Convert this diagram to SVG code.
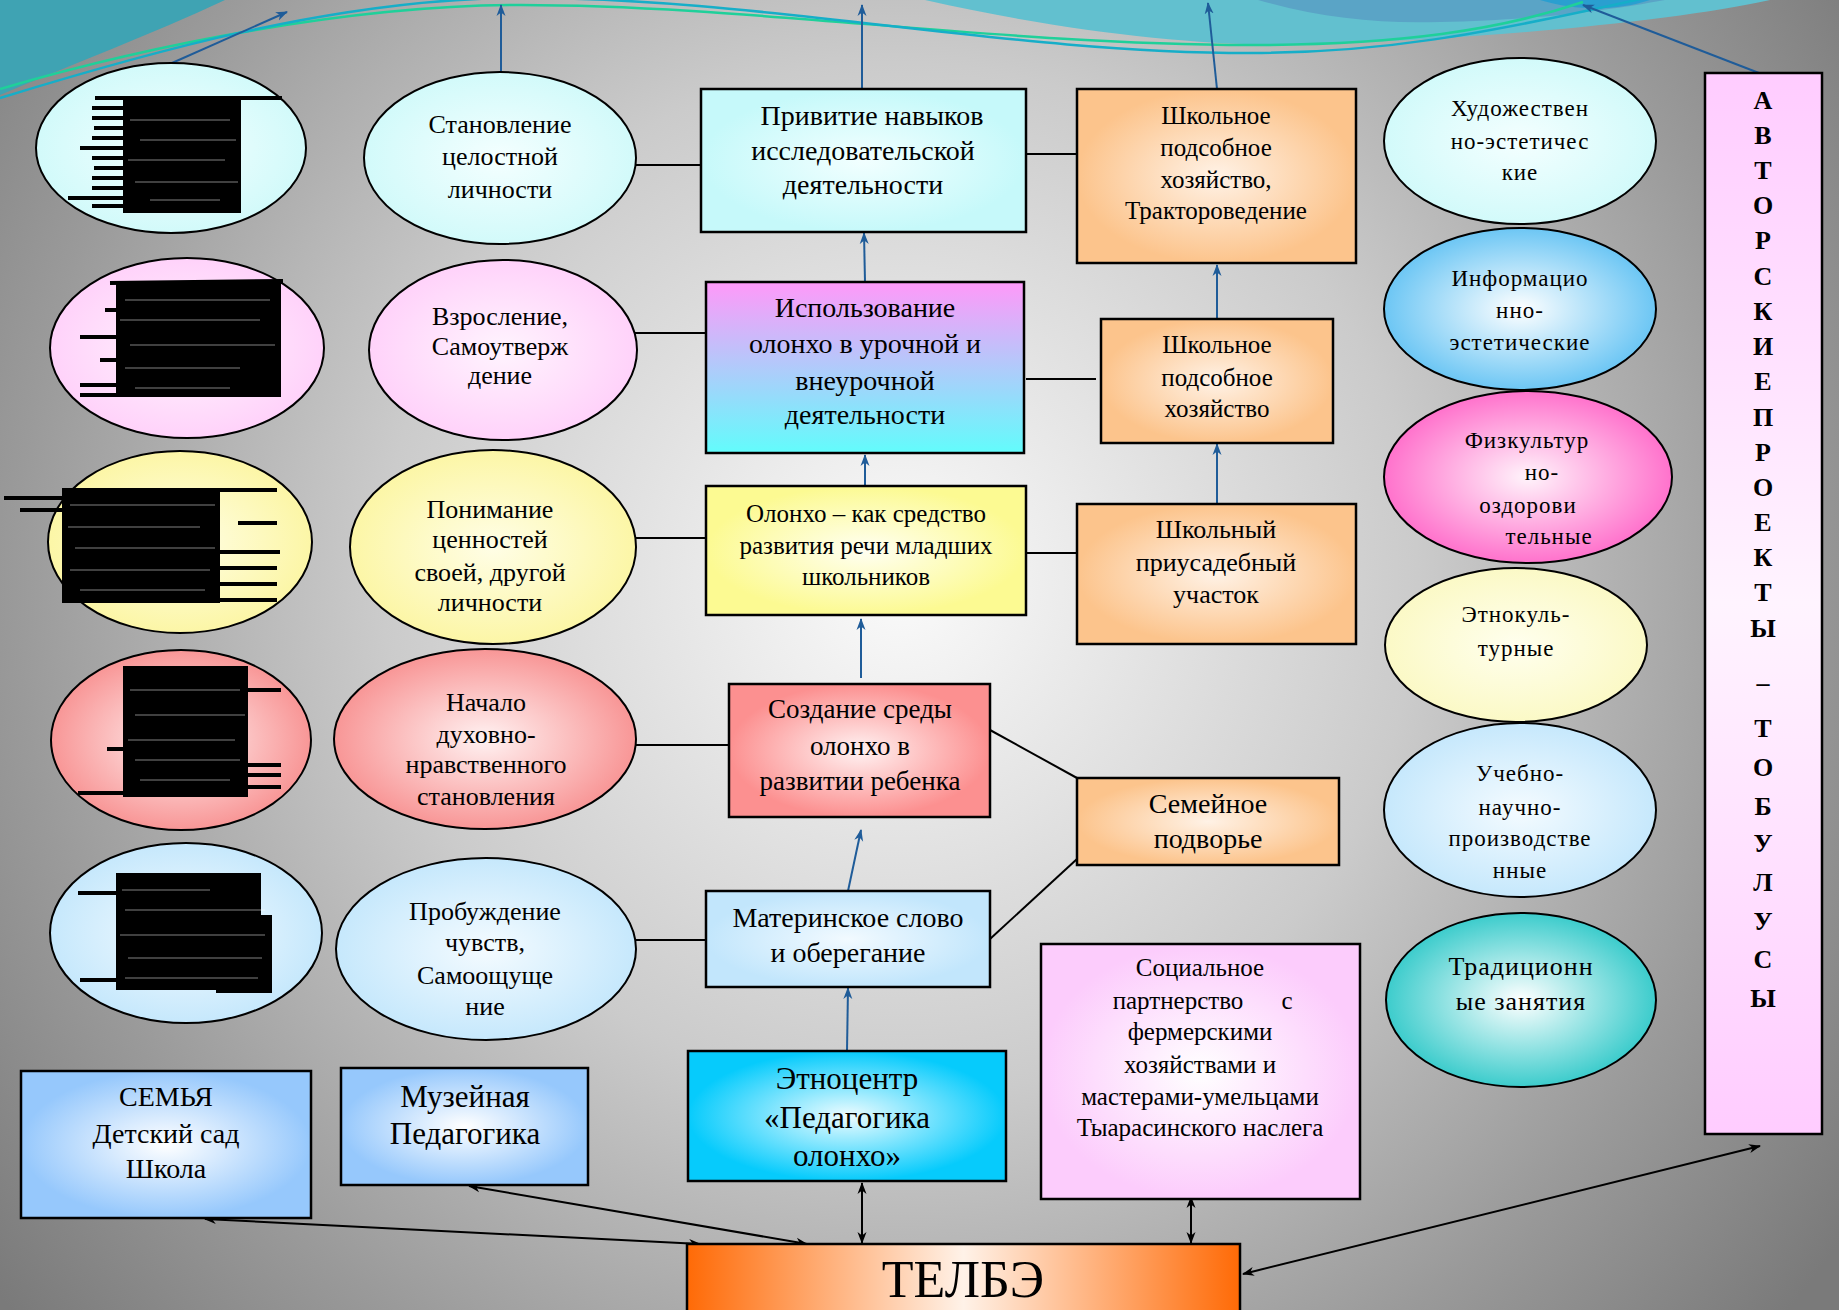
<svg xmlns="http://www.w3.org/2000/svg" width="1839" height="1310" viewBox="0 0 1839 1310">
<style>
.t{font-family:"Liberation Serif","Times New Roman",serif;fill:#000;text-anchor:middle}
.r{font-family:"Liberation Serif","Times New Roman",serif;fill:#000;text-anchor:middle;letter-spacing:1px}
.b{font-family:"Liberation Serif","Times New Roman",serif;fill:#000;text-anchor:middle;font-weight:bold;font-size:26px}
.bx{stroke:#000;stroke-width:2.5}
.el{stroke:#000;stroke-width:2}
.bl{stroke:#1f5c99;stroke-width:2;fill:none}
.bk{stroke:#000;stroke-width:2;fill:none}
.sc{fill:#000}
.sl{stroke:#000;stroke-width:4;fill:none}
.sw{stroke:#fff;stroke-width:1;fill:none;opacity:.5}
</style>
<defs>
<radialGradient id="bg" cx="900" cy="580" r="1150" gradientUnits="userSpaceOnUse">
<stop offset="0" stop-color="#fbfbfb"/><stop offset="0.45" stop-color="#cbcbcb"/><stop offset="0.77" stop-color="#9a9a9a"/><stop offset="1" stop-color="#7a7a7a"/>
</radialGradient>
<radialGradient id="gCy"><stop offset="0" stop-color="#f4ffff"/><stop offset="1" stop-color="#d2fafa"/></radialGradient>
<radialGradient id="gPk"><stop offset="0" stop-color="#fff4fe"/><stop offset="1" stop-color="#ffd2fa"/></radialGradient>
<radialGradient id="gYe"><stop offset="0" stop-color="#fffee6"/><stop offset="1" stop-color="#fcf6a6"/></radialGradient>
<radialGradient id="gSa"><stop offset="0" stop-color="#fff2f2"/><stop offset="1" stop-color="#f89696"/></radialGradient>
<radialGradient id="gLb"><stop offset="0" stop-color="#f4fbff"/><stop offset="1" stop-color="#c6e8fc"/></radialGradient>
<radialGradient id="gIn"><stop offset="0" stop-color="#ffffff"/><stop offset="1" stop-color="#6cc6f4"/></radialGradient>
<radialGradient id="gFz"><stop offset="0" stop-color="#fff4fb"/><stop offset="1" stop-color="#ff72cc"/></radialGradient>
<radialGradient id="gEt"><stop offset="0" stop-color="#ffffee"/><stop offset="1" stop-color="#fbf9c6"/></radialGradient>
<radialGradient id="gTr"><stop offset="0" stop-color="#ffffff"/><stop offset="1" stop-color="#3ccccc"/></radialGradient>
<radialGradient id="bCy"><stop offset="0" stop-color="#f2ffff"/><stop offset="1" stop-color="#c6f9fa"/></radialGradient>
<linearGradient id="bUs" x1="0" y1="0" x2="0" y2="1"><stop offset="0" stop-color="#ff99f9"/><stop offset="1" stop-color="#62fcfc"/></linearGradient>
<radialGradient id="bYe"><stop offset="0" stop-color="#fffff2"/><stop offset="1" stop-color="#fcfa92"/></radialGradient>
<radialGradient id="bOr"><stop offset="0" stop-color="#fff2e6"/><stop offset="1" stop-color="#fcc48c"/></radialGradient>
<radialGradient id="bRe"><stop offset="0" stop-color="#fff2f2"/><stop offset="1" stop-color="#fc9090"/></radialGradient>
<radialGradient id="bLb"><stop offset="0" stop-color="#f2faff"/><stop offset="1" stop-color="#c2e6fc"/></radialGradient>
<radialGradient id="bEt"><stop offset="0" stop-color="#eefcff"/><stop offset="1" stop-color="#06cbfc"/></radialGradient>
<radialGradient id="bSo"><stop offset="0" stop-color="#ffffff"/><stop offset="1" stop-color="#fcccfc"/></radialGradient>
<radialGradient id="bSk"><stop offset="0" stop-color="#ffffff"/><stop offset="1" stop-color="#96c8fc"/></radialGradient>
<linearGradient id="bTe" x1="0" y1="0" x2="1" y2="0"><stop offset="0" stop-color="#ff6a06"/><stop offset="0.5" stop-color="#fff2e8"/><stop offset="1" stop-color="#ff6a06"/></linearGradient>
<linearGradient id="bAv" x1="0" y1="0" x2="0" y2="1"><stop offset="0" stop-color="#ffccff"/><stop offset="0.5" stop-color="#fff4ff"/><stop offset="1" stop-color="#ffccff"/></linearGradient>
<marker id="ab" viewBox="0 0 12 10" refX="11" refY="5" markerWidth="12" markerHeight="10" markerUnits="userSpaceOnUse" orient="auto-start-reverse"><path d="M0,0.5 L12,5 L0,9.5 L3.5,5 Z" fill="#1f5c99"/></marker>
<marker id="ak" viewBox="0 0 12 10" refX="11" refY="5" markerWidth="12" markerHeight="10" markerUnits="userSpaceOnUse" orient="auto-start-reverse"><path d="M0,0.5 L12,5 L0,9.5 L3.5,5 Z" fill="#000"/></marker>
</defs>

<rect x="0" y="0" width="1839" height="1310" fill="url(#bg)"/>
<path d="M0,0 L225,0 C150,35 70,65 0,95 Z" fill="#3fa3b3"/>
<path d="M925,0 C1080,35 1220,48 1320,44 C1500,38 1680,20 1770,0 Z" fill="#62c0cf"/>
<path d="M1258,0 C1320,18 1380,24 1440,22 C1540,20 1610,10 1665,0 Z" fill="#5aa4c6"/>
<path d="M1540,0 C1580,12 1620,10 1650,0 Z" fill="#2a9fd0"/>
<path d="M0,89 C150,45 350,5 520,5 C750,5 1000,45 1250,45 C1400,45 1500,30 1583,2" stroke="#1fd09a" stroke-width="2.5" fill="none"/>
<path d="M0,98 C140,55 330,0 510,-2 C760,-4 1000,53 1250,53 C1380,53 1480,35 1645,-2" stroke="#16aec8" stroke-width="2.5" fill="none"/>

<g id="connectors">
<path class="bl" d="M172,63 L287,12" marker-end="url(#ab)"/>
<path class="bl" d="M501,73 L501,5" marker-end="url(#ab)"/>
<path class="bl" d="M862,89 L862,5" marker-end="url(#ab)"/>
<path class="bl" d="M1217,89 L1208,3" marker-end="url(#ab)"/>
<path class="bl" d="M1759,73 L1583,5" marker-end="url(#ab)"/>
<path class="bl" d="M865,282 L864,233" marker-end="url(#ab)"/>
<path class="bl" d="M865,486 L865,455" marker-end="url(#ab)"/>
<path class="bl" d="M861,678 L861,619" marker-end="url(#ab)"/>
<path class="bl" d="M848,891 L861,830" marker-end="url(#ab)"/>
<path class="bl" d="M847,1051 L848,988" marker-end="url(#ab)"/>
<path class="bl" d="M1217,319 L1217,265" marker-end="url(#ab)"/>
<path class="bl" d="M1217,504 L1217,444" marker-end="url(#ab)"/>
<path class="bk" d="M627,165 L701,165"/>
<path class="bk" d="M627,333 L706,333"/>
<path class="bk" d="M627,538 L706,538"/>
<path class="bk" d="M627,745 L729,745"/>
<path class="bk" d="M620,940 L706,940"/>
<path class="bk" d="M1026,154 L1077,154"/>
<path class="bk" d="M1026,379 L1096,379"/>
<path class="bk" d="M1026,553 L1077,553"/>
<path class="bk" d="M990,730 L1077,778"/>
<path class="bk" d="M990,939 L1077,859"/>
<path class="bk" d="M862,1183 L862,1243" marker-start="url(#ak)" marker-end="url(#ak)"/>
<path class="bk" d="M1191,1197 L1191,1243" marker-start="url(#ak)" marker-end="url(#ak)"/>
<path class="bk" d="M205,1219 L700,1244" marker-start="url(#ak)" marker-end="url(#ak)"/>
<path class="bk" d="M469,1186 L807,1244" marker-start="url(#ak)" marker-end="url(#ak)"/>
<path class="bk" d="M1243,1274 L1760,1146" marker-start="url(#ak)" marker-end="url(#ak)"/>
</g>

<g id="e1"><ellipse class="el" cx="171" cy="148" rx="135" ry="85" fill="url(#gCy)"/>
<rect class="sc" x="123" y="96" width="118" height="117"/>
<path class="sl" d="M95,98 L282,98 M92,108 L123,108 M92,118 L123,118 M94,128 L123,128 M92,138 L123,138 M80,148 L123,148 M92,158 L123,158 M94,168 L123,168 M92,178 L123,178 M92,188 L123,188 M68,198 L123,198 M92,206 L123,206"/>
<path class="sw" d="M130,120 L230,120 M140,140 L236,140 M128,160 L225,160 M135,182 L238,182 M150,200 L220,200"/></g>

<g id="e2"><ellipse class="el" cx="187" cy="348" rx="137" ry="90" fill="url(#gPk)"/>
<rect class="sc" x="116" y="283" width="165" height="114"/>
<path class="sl" d="M110,283 L283,281 M80,337 L116,337 M80,385 L116,385 M80,395 L116,395 M105,310 L116,310 M100,360 L116,360"/>
<path class="sw" d="M125,300 L270,300 M120,320 L260,320 M130,345 L275,345 M125,368 L240,368 M135,388 L230,388"/></g>

<g id="e3"><ellipse class="el" cx="180" cy="542" rx="132" ry="91" fill="url(#gYe)"/>
<rect class="sc" x="62" y="488" width="158" height="115"/>
<path class="sl" d="M62,490 L277,490 M4,498 L62,498 M20,510 L62,510 M238,523 L277,523 M220,552 L280,552 M220,568 L277,568 M220,584 L277,584 M200,600 L277,600"/>
<path class="sw" d="M70,505 L215,505 M68,527 L200,527 M75,548 L215,548 M70,570 L210,570 M80,590 L205,590"/></g>

<g id="e4"><ellipse class="el" cx="181" cy="740" rx="130" ry="90" fill="url(#gSa)"/>
<rect class="sc" x="123" y="666" width="125" height="131"/>
<path class="sl" d="M123,668 L248,668 M240,690 L281,690 M107,749 L123,749 M240,765 L281,765 M240,775 L281,775 M240,787 L281,787 M78,793 L123,793"/>
<path class="sw" d="M130,690 L240,690 M135,715 L245,715 M128,740 L235,740 M135,760 L240,760 M140,780 L230,780"/></g>

<g id="e5"><ellipse class="el" cx="186" cy="933" rx="136" ry="90" fill="url(#gLb)"/>
<rect class="sc" x="116" y="873" width="100" height="117"/>
<rect class="sc" x="216" y="873" width="45" height="50"/>
<rect class="sc" x="216" y="915" width="56" height="78"/>
<path class="sl" d="M78,893 L116,893 M80,980 L116,980"/>
<path class="sw" d="M122,890 L210,890 M125,910 L265,910 M120,935 L265,935 M128,958 L262,958 M125,978 L258,978"/></g>

<g id="n-stanov"><ellipse class="el" cx="500" cy="158" rx="136" ry="86" fill="url(#gCy)"/>
<text class="t" font-size="26"><tspan x="500" y="133">Становление</tspan><tspan x="500" y="165">целостной</tspan><tspan x="500" y="198">личности</tspan></text></g>
<g id="n-vzros"><ellipse class="el" cx="503" cy="350" rx="134" ry="90" fill="url(#gPk)"/>
<text class="t" font-size="26"><tspan x="500" y="325">Взросление,</tspan><tspan x="500" y="355">Самоутверж</tspan><tspan x="500" y="384">дение</tspan></text></g>
<g id="n-ponim"><ellipse class="el" cx="493" cy="547" rx="143" ry="97" fill="url(#gYe)"/>
<text class="t" font-size="26"><tspan x="490" y="518">Понимание</tspan><tspan x="490" y="548">ценностей</tspan><tspan x="490" y="581">своей, другой</tspan><tspan x="490" y="611">личности</tspan></text></g>
<g id="n-nachalo"><ellipse class="el" cx="485" cy="739" rx="151" ry="90" fill="url(#gSa)"/>
<text class="t" font-size="26"><tspan x="486" y="711">Начало</tspan><tspan x="486" y="743">духовно-</tspan><tspan x="486" y="773">нравственного</tspan><tspan x="486" y="805">становления</tspan></text></g>
<g id="n-probuzh"><ellipse class="el" cx="486" cy="949" rx="150" ry="91" fill="url(#gLb)"/>
<text class="t" font-size="26"><tspan x="485" y="920">Пробуждение</tspan><tspan x="485" y="951">чувств,</tspan><tspan x="485" y="984">Самоощуще</tspan><tspan x="485" y="1015">ние</tspan></text></g>

<g id="n-privitie"><rect class="bx" x="701" y="89" width="325" height="143" fill="url(#bCy)"/>
<text class="t" font-size="28"><tspan x="872" y="125">Привитие навыков</tspan><tspan x="863" y="160">исследовательской</tspan><tspan x="863" y="194">деятельности</tspan></text></g>
<g id="n-ispolz"><rect class="bx" x="706" y="282" width="318" height="171" fill="url(#bUs)"/>
<text class="t" font-size="28"><tspan x="865" y="317">Использование</tspan><tspan x="865" y="353">олонхо в урочной и</tspan><tspan x="865" y="390">внеурочной</tspan><tspan x="865" y="424">деятельности</tspan></text></g>
<g id="n-olonho"><rect class="bx" x="706" y="486" width="320" height="129" fill="url(#bYe)"/>
<text class="t" font-size="25"><tspan x="866" y="522">Олонхо – как средство</tspan><tspan x="866" y="554">развития речи младших</tspan><tspan x="866" y="585">школьников</tspan></text></g>
<g id="n-shtr"><rect class="bx" x="1077" y="89" width="279" height="174" fill="url(#bOr)"/>
<text class="t" font-size="25"><tspan x="1216" y="124">Школьное</tspan><tspan x="1216" y="156">подсобное</tspan><tspan x="1216" y="188">хозяйство,</tspan><tspan x="1216" y="219">Трактороведение</tspan></text></g>
<g id="n-shpod"><rect class="bx" x="1101" y="319" width="232" height="124" fill="url(#bOr)"/>
<text class="t" font-size="25"><tspan x="1217" y="353">Школьное</tspan><tspan x="1217" y="386">подсобное</tspan><tspan x="1217" y="417">хозяйство</tspan></text></g>
<g id="n-prius"><rect class="bx" x="1077" y="504" width="279" height="140" fill="url(#bOr)"/>
<text class="t" font-size="26"><tspan x="1216" y="538">Школьный</tspan><tspan x="1216" y="571">приусадебный</tspan><tspan x="1216" y="603">участок</tspan></text></g>
<g id="n-sozd"><rect class="bx" x="729" y="684" width="261" height="133" fill="url(#bRe)"/>
<text class="t" font-size="27"><tspan x="860" y="718">Создание среды</tspan><tspan x="860" y="755">олонхо в</tspan><tspan x="860" y="790">развитии ребенка</tspan></text></g>
<g id="n-semein"><rect class="bx" x="1077" y="778" width="262" height="87" fill="url(#bOr)"/>
<text class="t" font-size="28"><tspan x="1208" y="813">Семейное</tspan><tspan x="1208" y="848">подворье</tspan></text></g>
<g id="n-mater"><rect class="bx" x="706" y="891" width="284" height="96" fill="url(#bLb)"/>
<text class="t" font-size="28"><tspan x="848" y="927">Материнское слово</tspan><tspan x="848" y="962">и оберегание</tspan></text></g>
<g id="n-etno"><rect class="bx" x="688" y="1051" width="318" height="130" fill="url(#bEt)"/>
<text class="t" font-size="31"><tspan x="847" y="1089">Этноцентр</tspan><tspan x="847" y="1128">«Педагогика</tspan><tspan x="847" y="1166">олонхо»</tspan></text></g>
<g id="n-social"><rect class="bx" x="1041" y="944" width="319" height="255" fill="url(#bSo)"/>
<text class="t" font-size="25"><tspan x="1200" y="976">Социальное</tspan><tspan x="1178" y="1009">партнерство</tspan><tspan x="1287" y="1009">с</tspan><tspan x="1200" y="1040">фермерскими</tspan><tspan x="1200" y="1073">хозяйствами и</tspan><tspan x="1200" y="1105">мастерами-умельцами</tspan><tspan x="1200" y="1136">Тыарасинского наслега</tspan></text></g>
<g id="n-telbe"><rect class="bx" x="687" y="1244" width="553" height="80" fill="url(#bTe)"/>
<text class="t" font-size="52" x="963" y="1297">ТЕЛБЭ</text></g>
<g id="n-semya"><rect class="bx" x="21" y="1071" width="290" height="147" fill="url(#bSk)"/>
<text class="t" font-size="28"><tspan x="166" y="1106">СЕМЬЯ</tspan><tspan x="166" y="1143">Детский сад</tspan><tspan x="166" y="1178">Школа</tspan></text></g>
<g id="n-muzei"><rect class="bx" x="341" y="1068" width="247" height="117" fill="url(#bSk)"/>
<text class="t" font-size="31"><tspan x="465" y="1107">Музейная</tspan><tspan x="465" y="1144">Педагогика</tspan></text></g>

<g id="n-hud"><ellipse class="el" cx="1520" cy="141" rx="136" ry="83" fill="url(#gCy)"/>
<text class="r" font-size="23"><tspan x="1520" y="116">Художествен</tspan><tspan x="1520" y="149">но-эстетичес</tspan><tspan x="1520" y="180">кие</tspan></text></g>
<g id="n-inf"><ellipse class="el" cx="1520" cy="309" rx="136" ry="81" fill="url(#gIn)"/>
<text class="r" font-size="23"><tspan x="1520" y="286">Информацио</tspan><tspan x="1520" y="318">нно-</tspan><tspan x="1520" y="350">эстетические</tspan></text></g>
<g id="n-fiz"><ellipse class="el" cx="1528" cy="477" rx="144" ry="86" fill="url(#gFz)"/>
<text class="r" font-size="23"><tspan x="1527" y="448">Физкультур</tspan><tspan x="1542" y="480">но-</tspan><tspan x="1528" y="513">оздорови</tspan><tspan x="1549" y="544">тельные</tspan></text></g>
<g id="n-etk"><ellipse class="el" cx="1516" cy="645" rx="131" ry="77" fill="url(#gEt)"/>
<text class="r" font-size="23"><tspan x="1516" y="622">Этнокуль-</tspan><tspan x="1516" y="656">турные</tspan></text></g>
<g id="n-ucheb"><ellipse class="el" cx="1520" cy="810" rx="136" ry="87" fill="url(#gLb)"/>
<text class="r" font-size="23"><tspan x="1520" y="781">Учебно-</tspan><tspan x="1520" y="815">научно-</tspan><tspan x="1520" y="846">производстве</tspan><tspan x="1520" y="878">нные</tspan></text></g>
<g id="n-trad"><ellipse class="el" cx="1521" cy="1000" rx="135" ry="87" fill="url(#gTr)"/>
<text class="r" font-size="26"><tspan x="1521" y="975">Традиционн</tspan><tspan x="1521" y="1010">ые занятия</tspan></text></g>

<g id="n-avtor"><rect class="bx" x="1705" y="73" width="117" height="1061" fill="url(#bAv)"/>
<text class="b"><tspan x="1763" y="109">А</tspan><tspan x="1763" y="144">В</tspan><tspan x="1763" y="179">Т</tspan><tspan x="1763" y="214">О</tspan><tspan x="1763" y="249">Р</tspan><tspan x="1763" y="285">С</tspan><tspan x="1763" y="320">К</tspan><tspan x="1763" y="355">И</tspan><tspan x="1763" y="390">Е</tspan><tspan x="1763" y="426">П</tspan><tspan x="1763" y="461">Р</tspan><tspan x="1763" y="496">О</tspan><tspan x="1763" y="531">Е</tspan><tspan x="1763" y="566">К</tspan><tspan x="1763" y="601">Т</tspan><tspan x="1763" y="637">Ы</tspan><tspan x="1763" y="691">–</tspan><tspan x="1763" y="737">Т</tspan><tspan x="1763" y="776">О</tspan><tspan x="1763" y="815">Б</tspan><tspan x="1763" y="852">У</tspan><tspan x="1763" y="891">Л</tspan><tspan x="1763" y="930">У</tspan><tspan x="1763" y="968">С</tspan><tspan x="1763" y="1007">Ы</tspan></text></g>
</svg>
